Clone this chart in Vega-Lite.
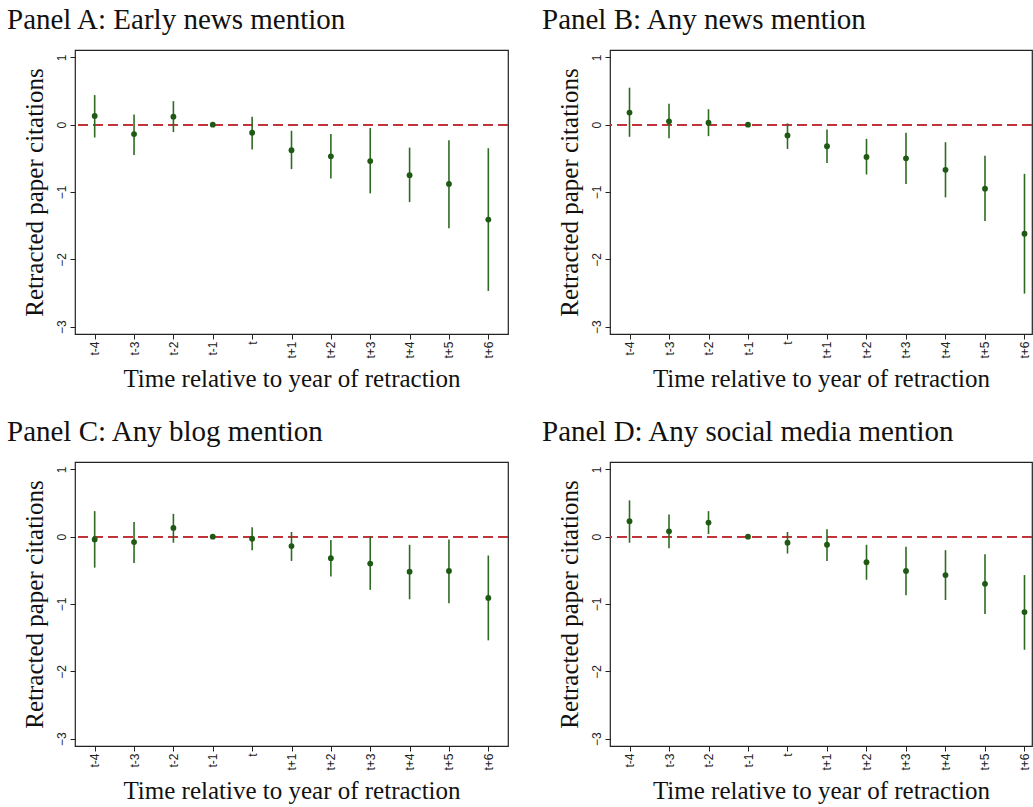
{
  "$schema": "https://vega.github.io/schema/vega-lite/v6.json",
  "background": "white",
  "padding": {"left": 6, "top": 5, "right": 0, "bottom": 0},
  "autosize": {"type": "pad"},
  "datasets": {
    "A": [
      {"period": "t-4", "est": 0.13, "lo": -0.19, "hi": 0.44},
      {"period": "t-3", "est": -0.14, "lo": -0.45, "hi": 0.15},
      {"period": "t-2", "est": 0.12, "lo": -0.11, "hi": 0.35},
      {"period": "t-1", "est": 0.0, "lo": 0.0, "hi": 0.0},
      {"period": "t", "est": -0.12, "lo": -0.37, "hi": 0.12},
      {"period": "t+1", "est": -0.38, "lo": -0.66, "hi": -0.09},
      {"period": "t+2", "est": -0.47, "lo": -0.80, "hi": -0.14},
      {"period": "t+3", "est": -0.54, "lo": -1.02, "hi": -0.05},
      {"period": "t+4", "est": -0.75, "lo": -1.15, "hi": -0.34},
      {"period": "t+5", "est": -0.88, "lo": -1.54, "hi": -0.23},
      {"period": "t+6", "est": -1.41, "lo": -2.47, "hi": -0.35}
    ],
    "B": [
      {"period": "t-4", "est": 0.18, "lo": -0.18, "hi": 0.55},
      {"period": "t-3", "est": 0.05, "lo": -0.20, "hi": 0.31},
      {"period": "t-2", "est": 0.03, "lo": -0.17, "hi": 0.23},
      {"period": "t-1", "est": 0.0, "lo": 0.0, "hi": 0.0},
      {"period": "t", "est": -0.16, "lo": -0.36, "hi": 0.02},
      {"period": "t+1", "est": -0.32, "lo": -0.57, "hi": -0.07},
      {"period": "t+2", "est": -0.48, "lo": -0.74, "hi": -0.21},
      {"period": "t+3", "est": -0.50, "lo": -0.88, "hi": -0.12},
      {"period": "t+4", "est": -0.67, "lo": -1.08, "hi": -0.26},
      {"period": "t+5", "est": -0.95, "lo": -1.43, "hi": -0.46},
      {"period": "t+6", "est": -1.62, "lo": -2.51, "hi": -0.73}
    ],
    "C": [
      {"period": "t-4", "est": -0.04, "lo": -0.46, "hi": 0.38},
      {"period": "t-3", "est": -0.08, "lo": -0.39, "hi": 0.22},
      {"period": "t-2", "est": 0.13, "lo": -0.09, "hi": 0.34},
      {"period": "t-1", "est": 0.0, "lo": 0.0, "hi": 0.0},
      {"period": "t", "est": -0.03, "lo": -0.20, "hi": 0.14},
      {"period": "t+1", "est": -0.14, "lo": -0.36, "hi": 0.07},
      {"period": "t+2", "est": -0.32, "lo": -0.59, "hi": -0.05},
      {"period": "t+3", "est": -0.40, "lo": -0.79, "hi": 0.0},
      {"period": "t+4", "est": -0.52, "lo": -0.93, "hi": -0.12},
      {"period": "t+5", "est": -0.51, "lo": -0.99, "hi": -0.04},
      {"period": "t+6", "est": -0.91, "lo": -1.54, "hi": -0.28}
    ],
    "D": [
      {"period": "t-4", "est": 0.23, "lo": -0.09, "hi": 0.54},
      {"period": "t-3", "est": 0.08, "lo": -0.17, "hi": 0.33},
      {"period": "t-2", "est": 0.21, "lo": 0.04, "hi": 0.38},
      {"period": "t-1", "est": 0.0, "lo": 0.0, "hi": 0.0},
      {"period": "t", "est": -0.09, "lo": -0.25, "hi": 0.07},
      {"period": "t+1", "est": -0.12, "lo": -0.36, "hi": 0.11},
      {"period": "t+2", "est": -0.38, "lo": -0.64, "hi": -0.12},
      {"period": "t+3", "est": -0.51, "lo": -0.87, "hi": -0.15},
      {"period": "t+4", "est": -0.57, "lo": -0.94, "hi": -0.20},
      {"period": "t+5", "est": -0.70, "lo": -1.15, "hi": -0.26},
      {"period": "t+6", "est": -1.12, "lo": -1.68, "hi": -0.57}
    ]
  },
  "config": {
    "view": {"stroke": "#222222", "strokeWidth": 1.2},
    "title": {"font": "Liberation Serif", "fontSize": 29, "fontWeight": "normal", "color": "#111111", "anchor": "start", "baseline": "alphabetic", "offset": 15, "dx": -15},
    "axis": {
      "domain": false,
      "grid": false,
      "tickSize": 5,
      "tickColor": "#222222",
      "labelFont": "Liberation Sans",
      "labelFontSize": 12,
      "labelColor": "#222222",
      "titleFont": "Liberation Serif",
      "titleFontSize": 25,
      "titleFontWeight": "normal",
      "titleColor": "#111111"
    }
  },
  "columns": 2,
  "align": "each",
  "spacing": {"row": 25, "column": 31},
  "concat": [
    {
      "title": "Panel A: Early news mention",
      "data": {"name": "A"},
      "width": 433,
      "height": 284,
      "layer": [
        {"mark": {"type": "rule", "color": "#c0303a", "strokeWidth": 1.1, "strokeDash": [10, 5]}, "encoding": {"y": {"datum": 0, "type": "quantitative", "scale": {"domain": [-3.11, 1.11], "nice": false, "zero": false}}}},
        {"mark": {"type": "rule", "color": "#2e6b22", "strokeWidth": 1.6},
         "encoding": {
           "x": {"field": "period", "type": "ordinal", "sort": ["t-4","t-3","t-2","t-1","t","t+1","t+2","t+3","t+4","t+5","t+6"], "scale": {"type": "point", "padding": 0.5}, "axis": {"title": "Time relative to year of retraction", "labelAngle": -90, "labelPadding": 2, "titlePadding": 8}},
           "y": {"field": "lo", "type": "quantitative", "scale": {"domain": [-3.11, 1.11], "nice": false, "zero": false}, "axis": {"title": "Retracted paper citations", "values": [-3, -2, -1, 0, 1], "format": "d", "labelAngle": -90, "labelPadding": 2, "titlePadding": 8}},
           "y2": {"field": "hi"}
         }},
        {"mark": {"type": "circle", "color": "#1f5a14", "size": 34, "opacity": 1},
         "encoding": {
           "x": {"field": "period", "type": "ordinal", "sort": ["t-4","t-3","t-2","t-1","t","t+1","t+2","t+3","t+4","t+5","t+6"]},
           "y": {"field": "est", "type": "quantitative"}
         }}
      ]
    },
    {
      "title": "Panel B: Any news mention",
      "data": {"name": "B"},
      "width": 422,
      "height": 284,
      "layer": [
        {"mark": {"type": "rule", "color": "#c0303a", "strokeWidth": 1.1, "strokeDash": [10, 5]}, "encoding": {"y": {"datum": 0, "type": "quantitative", "scale": {"domain": [-3.11, 1.11], "nice": false, "zero": false}}}},
        {"mark": {"type": "rule", "color": "#2e6b22", "strokeWidth": 1.6},
         "encoding": {
           "x": {"field": "period", "type": "ordinal", "sort": ["t-4","t-3","t-2","t-1","t","t+1","t+2","t+3","t+4","t+5","t+6"], "scale": {"type": "point", "padding": 0.342, "align": 0.722}, "axis": {"title": "Time relative to year of retraction", "labelAngle": -90, "labelPadding": 2, "titlePadding": 8}},
           "y": {"field": "lo", "type": "quantitative", "scale": {"domain": [-3.11, 1.11], "nice": false, "zero": false}, "axis": {"title": "Retracted paper citations", "values": [-3, -2, -1, 0, 1], "format": "d", "labelAngle": -90, "labelPadding": 2, "titlePadding": 8}},
           "y2": {"field": "hi"}
         }},
        {"mark": {"type": "circle", "color": "#1f5a14", "size": 34, "opacity": 1},
         "encoding": {
           "x": {"field": "period", "type": "ordinal", "sort": ["t-4","t-3","t-2","t-1","t","t+1","t+2","t+3","t+4","t+5","t+6"]},
           "y": {"field": "est", "type": "quantitative"}
         }}
      ]
    },
    {
      "title": "Panel C: Any blog mention",
      "data": {"name": "C"},
      "width": 433,
      "height": 284,
      "layer": [
        {"mark": {"type": "rule", "color": "#c0303a", "strokeWidth": 1.1, "strokeDash": [10, 5]}, "encoding": {"y": {"datum": 0, "type": "quantitative", "scale": {"domain": [-3.11, 1.11], "nice": false, "zero": false}}}},
        {"mark": {"type": "rule", "color": "#2e6b22", "strokeWidth": 1.6},
         "encoding": {
           "x": {"field": "period", "type": "ordinal", "sort": ["t-4","t-3","t-2","t-1","t","t+1","t+2","t+3","t+4","t+5","t+6"], "scale": {"type": "point", "padding": 0.5}, "axis": {"title": "Time relative to year of retraction", "labelAngle": -90, "labelPadding": 2, "titlePadding": 8}},
           "y": {"field": "lo", "type": "quantitative", "scale": {"domain": [-3.11, 1.11], "nice": false, "zero": false}, "axis": {"title": "Retracted paper citations", "values": [-3, -2, -1, 0, 1], "format": "d", "labelAngle": -90, "labelPadding": 2, "titlePadding": 8}},
           "y2": {"field": "hi"}
         }},
        {"mark": {"type": "circle", "color": "#1f5a14", "size": 34, "opacity": 1},
         "encoding": {
           "x": {"field": "period", "type": "ordinal", "sort": ["t-4","t-3","t-2","t-1","t","t+1","t+2","t+3","t+4","t+5","t+6"]},
           "y": {"field": "est", "type": "quantitative"}
         }}
      ]
    },
    {
      "title": "Panel D: Any social media mention",
      "data": {"name": "D"},
      "width": 422,
      "height": 284,
      "layer": [
        {"mark": {"type": "rule", "color": "#c0303a", "strokeWidth": 1.1, "strokeDash": [10, 5]}, "encoding": {"y": {"datum": 0, "type": "quantitative", "scale": {"domain": [-3.11, 1.11], "nice": false, "zero": false}}}},
        {"mark": {"type": "rule", "color": "#2e6b22", "strokeWidth": 1.6},
         "encoding": {
           "x": {"field": "period", "type": "ordinal", "sort": ["t-4","t-3","t-2","t-1","t","t+1","t+2","t+3","t+4","t+5","t+6"], "scale": {"type": "point", "padding": 0.342, "align": 0.722}, "axis": {"title": "Time relative to year of retraction", "labelAngle": -90, "labelPadding": 2, "titlePadding": 8}},
           "y": {"field": "lo", "type": "quantitative", "scale": {"domain": [-3.11, 1.11], "nice": false, "zero": false}, "axis": {"title": "Retracted paper citations", "values": [-3, -2, -1, 0, 1], "format": "d", "labelAngle": -90, "labelPadding": 2, "titlePadding": 8}},
           "y2": {"field": "hi"}
         }},
        {"mark": {"type": "circle", "color": "#1f5a14", "size": 34, "opacity": 1},
         "encoding": {
           "x": {"field": "period", "type": "ordinal", "sort": ["t-4","t-3","t-2","t-1","t","t+1","t+2","t+3","t+4","t+5","t+6"]},
           "y": {"field": "est", "type": "quantitative"}
         }}
      ]
    }
  ]
}
